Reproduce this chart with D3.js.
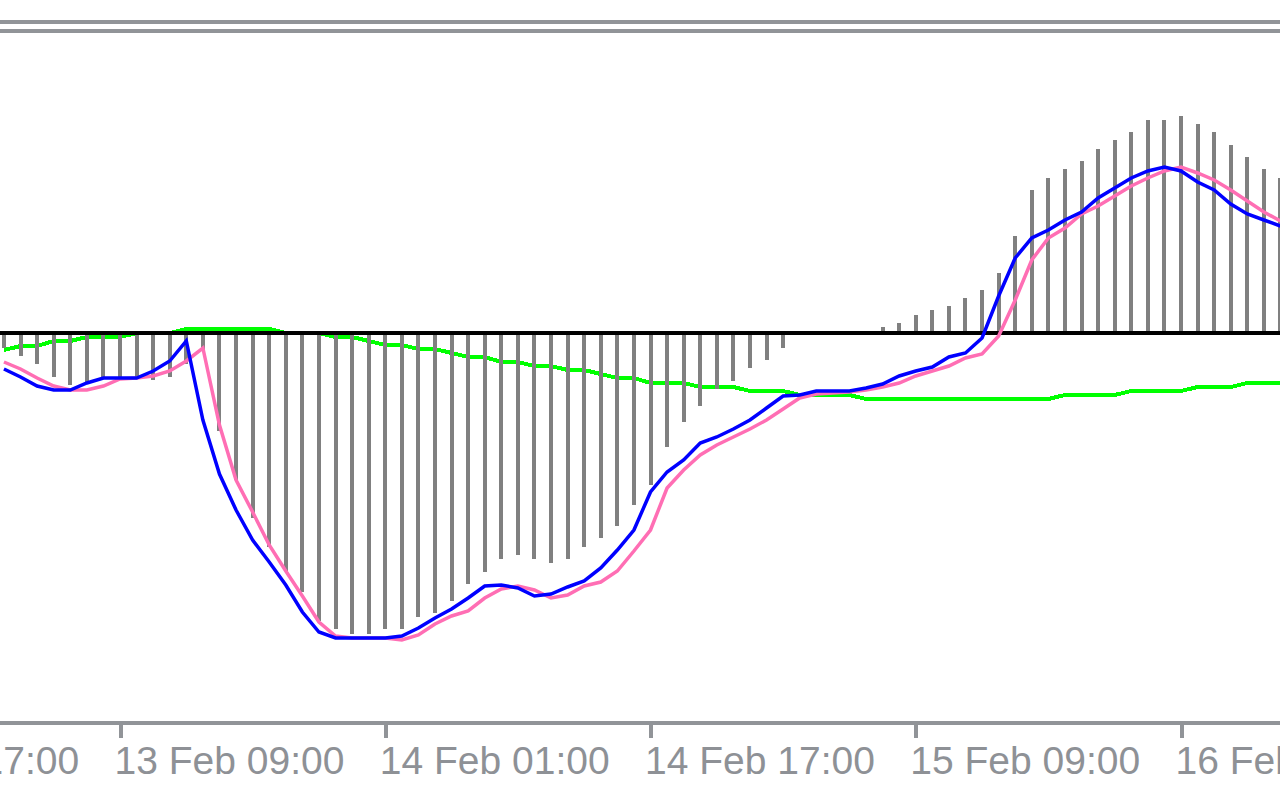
<!DOCTYPE html>
<html>
<head>
<meta charset="utf-8">
<script src="https://cdn.jsdelivr.net/npm/d3@7"></script>
<style>
  html, body { margin: 0; padding: 0; background: #ffffff; overflow: hidden; }
  svg { display: block; }
</style>
</head>
<body>
<svg id="chart" width="1280" height="800"></svg>
<script>
// ---- Data (values in points, 1 point = 0.00001) ----
// Hourly bars starting 13 Feb 02:00
const startTime = new Date(2023, 1, 13, 2, 0);

const histogram = [
  -15, -23, -31, -44, -52, -51, -44, -44, -44, -47, -44, -31, -17,
  -98, -147, -185, -214, -238, -259, -288, -296, -301, -301, -296, -296,
  -284, -280, -268, -251, -239, -226, -222, -226, -230, -226, -214, -205,
  -193, -172, -152, -114, -89, -73, -56, -48, -35, -27, -15,
  0, 0, 0, 0, 0,
  6, 10, 18, 23, 27, 35, 43, 60,
  97, 143, 155, 164, 172, 184, 193, 201,
  213, 213, 217, 209, 201, 188, 176, 164, 155
];

const macdLine = [
  -36, -44, -53, -57, -57, -50, -45, -45, -45, -38, -28, -8, -87,
  -141, -177, -207, -229, -252, -279, -299, -305, -305, -305, -305, -303,
  -295, -285, -276, -265, -253, -252, -255, -263, -261, -254, -248, -235,
  -217, -197, -159, -139, -127, -110, -104, -96, -87, -75, -63,
  -62, -58, -58, -58, -55,
  -51, -43, -38, -34, -24, -20, -5, 37,
  75, 95, 103, 113, 121, 135, 145, 155,
  162, 166, 162, 151, 143, 129, 119, 113, 107
];

const signalLine = [
  -29, -36, -45, -53, -57, -57, -53, -46, -45, -43, -38, -28, -15,
  -92, -147, -179, -212, -238, -263, -289, -303, -305, -305, -305, -307,
  -302, -291, -283, -278, -265, -256, -253, -257, -265, -262, -253, -249,
  -238, -218, -197, -155, -137, -122, -112, -104, -96, -87, -76,
  -65, -61, -60, -59, -57,
  -54, -50, -43, -38, -33, -25, -21, -3,
  33, 73, 95, 105, 119, 127, 137, 147,
  155, 162, 166, 160, 153, 143, 132, 121, 112
];

const greenLine = [
  -17, -13, -13, -8, -8, -4, -4, -4, 0, 0, 0,
  4, 4, 4, 4, 4, 4, 0, 0, 0, -4, -4, -8, -12, -12,
  -16, -16, -20, -24, -24, -29, -29, -33, -33, -37, -37, -41,
  -45, -45, -50, -50, -50, -54, -54, -54, -58, -58, -58,
  -62, -62, -62, -62,
  -66, -66, -66, -66, -66, -66, -66, -66, -66, -66, -66, -66,
  -62, -62, -62, -62, -58, -58, -58, -58, -54, -54, -54, -50, -50, -50
];

// Axis ticks (bar offsets from start) and their labels
const tickOffsets = [-9, 7, 23, 39, 55, 71];
const tickLabels = ["12 Feb 17:00", "13 Feb 09:00", "14 Feb 01:00", "14 Feb 17:00", "15 Feb 09:00", "16 Feb 01:00"];

// ---- Drawing ----
const W = 1280, H = 800;
const HOUR = 3600 * 1000;
const timeOf = i => new Date(startTime.getTime() + i * HOUR);

const svg = d3.select("#chart");
const gray = "#919498";

const x = d3.scaleTime()
  .domain([timeOf(7), timeOf(71)])
  .range([120, 1181]);

const y = d3.scaleLinear()
  .domain([-389, 300])
  .range([722, 33]);

const dates = histogram.map((_, i) => timeOf(i));

// top frame double line
svg.append("rect").attr("x", 0).attr("y", 20).attr("width", W).attr("height", 4).attr("fill", gray);
svg.append("rect").attr("x", 0).attr("y", 29).attr("width", W).attr("height", 4).attr("fill", gray);

const lineGen = arr => d3.line()
  .x((d, i) => x(dates[i]))
  .y(d => y(d))(arr);

// green line (under bars)
svg.append("path")
  .attr("d", lineGen(greenLine))
  .attr("fill", "none")
  .attr("stroke", "#00ff00")
  .attr("stroke-width", 4)
  .attr("shape-rendering", "crispEdges");

// histogram bars
svg.append("g")
  .selectAll("rect")
  .data(histogram)
  .join("rect")
  .attr("x", (d, i) => Math.round(x(dates[i])) - 2)
  .attr("width", 4)
  .attr("y", d => y(Math.max(0, d)))
  .attr("height", d => Math.abs(y(d) - y(0)))
  .attr("fill", "#808080")
  .attr("shape-rendering", "crispEdges");

// zero line
svg.append("line")
  .attr("x1", 0).attr("x2", W)
  .attr("y1", y(0)).attr("y2", y(0))
  .attr("stroke", "#000000")
  .attr("stroke-width", 4)
  .attr("shape-rendering", "crispEdges");

// signal (pink)
svg.append("path")
  .attr("d", lineGen(signalLine))
  .attr("fill", "none")
  .attr("stroke", "#ff6eb4")
  .attr("stroke-width", 3.5);

// macd (blue)
svg.append("path")
  .attr("d", lineGen(macdLine))
  .attr("fill", "none")
  .attr("stroke", "#0000ff")
  .attr("stroke-width", 3.5);

// bottom axis
svg.append("rect").attr("x", 0).attr("y", 721).attr("width", W).attr("height", 4).attr("fill", gray);

const axis = d3.axisBottom(x)
  .tickValues(tickOffsets.map(timeOf))
  .tickFormat((d, i) => tickLabels[i])
  .tickSize(15)
  .tickSizeOuter(0);

const gAxis = svg.append("g")
  .attr("transform", "translate(0,723)")
  .call(axis);

gAxis.select(".domain").remove();
gAxis.selectAll(".tick line")
  .attr("stroke", gray)
  .attr("stroke-width", 4)
  .attr("shape-rendering", "crispEdges");
gAxis.selectAll(".tick text")
  .attr("fill", "#8e9196")
  .attr("text-anchor", "start")
  .attr("x", -6)
  .attr("y", 51)
  .attr("dy", 0)
  .style("font-family", "'Liberation Sans', Arial, sans-serif")
  .style("font-size", "39px");
</script>
</body>
</html>
